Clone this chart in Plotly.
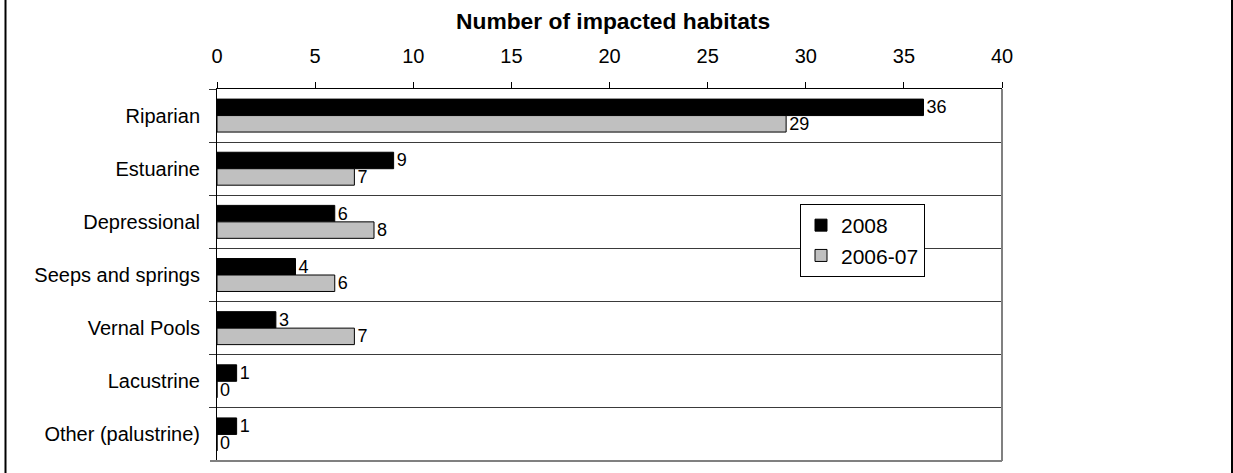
import plotly.graph_objects as go

# Habitat categories (top to bottom) and impacted counts per survey period
categories = ["Riparian", "Estuarine", "Depressional", "Seeps and springs",
              "Vernal Pools", "Lacustrine", "Other (palustrine)"]
counts_2008 = [36, 9, 6, 4, 3, 1, 1]
counts_2006_07 = [29, 7, 8, 6, 7, 0, 0]
series_names = ["2008", "2006-07"]
x_ticks = [0, 5, 10, 15, 20, 25, 30, 35, 40]

FONT = "Liberation Sans, Arial, sans-serif"

fig = go.Figure()
for name, vals, color in [(series_names[0], counts_2008, "#000000"),
                          (series_names[1], counts_2006_07, "#c0c0c0")]:
    fig.add_trace(go.Bar(
        y=categories, x=vals, name=name, orientation="h",
        legendgroup=name,
        marker=dict(color=color, line=dict(color="#000000", width=1)),
        text=[str(v) for v in vals], textposition="outside",
        constraintext="none",
        textfont=dict(family=FONT, size=18, color="#000000"),
        cliponaxis=False,
    ))

W, H = 1233, 473
L, R, T, B = 217, 231, 89, 12
pw, ph = W - L - R, H - T - B


def px_x(px):
    return (px - L) / pw


def px_y(py):
    return (H - B - py) / ph


fig.update_layout(
    width=W, height=H,
    margin=dict(l=L, r=R, t=T, b=B),
    paper_bgcolor="white", plot_bgcolor="white",
    barmode="group", bargap=0.38, bargroupgap=0,
    font=dict(family=FONT, size=20, color="#000000"),
    showlegend=True,
    legend=dict(
        x=px_x(800), y=px_y(204), xanchor="left", yanchor="top",
        bgcolor="white", bordercolor="#000000", borderwidth=1,
        font=dict(family=FONT, size=21, color="#000000"),
        traceorder="normal", tracegroupgap=3,
    ),
    xaxis=dict(
        side="top", range=[0, 40], tickvals=x_ticks,
        ticks="outside", ticklen=6, tickcolor="#000000",
        showline=True, linecolor="#000000", linewidth=1,
        showgrid=False, zeroline=False,
        tickfont=dict(family=FONT, size=20),
        ticklabelstandoff=11,
    ),
    yaxis=dict(
        type="category", categoryorder="array", categoryarray=categories,
        autorange="reversed", tickson="boundaries",
        ticks="outside", ticklen=7, tickcolor="#333333",
        showline=True, linecolor="#000000", linewidth=1,
        showgrid=True, gridcolor="#3a3a3a", gridwidth=1,
        tickfont=dict(family=FONT, size=20),
        ticklabelstandoff=12,
    ),
    annotations=[dict(
        text="<b>Number of impacted habitats</b>", xref="paper", yref="paper",
        x=px_x(613), y=px_y(21), xanchor="center", yanchor="middle",
        showarrow=False, font=dict(family=FONT, size=22.8, color="#000000"),
    )],
    shapes=[
        # right and bottom edges of the plot frame
        dict(type="line", xref="paper", yref="paper", x0=1, x1=1, y0=0, y1=1,
             line=dict(color="#808080", width=2)),
        dict(type="line", xref="paper", yref="paper", x0=px_x(210), x1=1, y0=0, y1=0,
             line=dict(color="#808080", width=2)),
        # outer chart border (left and right sides)
        dict(type="line", xref="paper", yref="paper", x0=px_x(5.5), x1=px_x(5.5),
             y0=px_y(0), y1=px_y(H), line=dict(color="#000000", width=2)),
        dict(type="line", xref="paper", yref="paper", x0=px_x(1232), x1=px_x(1232),
             y0=px_y(0), y1=px_y(H), line=dict(color="#000000", width=2)),
    ],
)

fig.write_html("out.html")
